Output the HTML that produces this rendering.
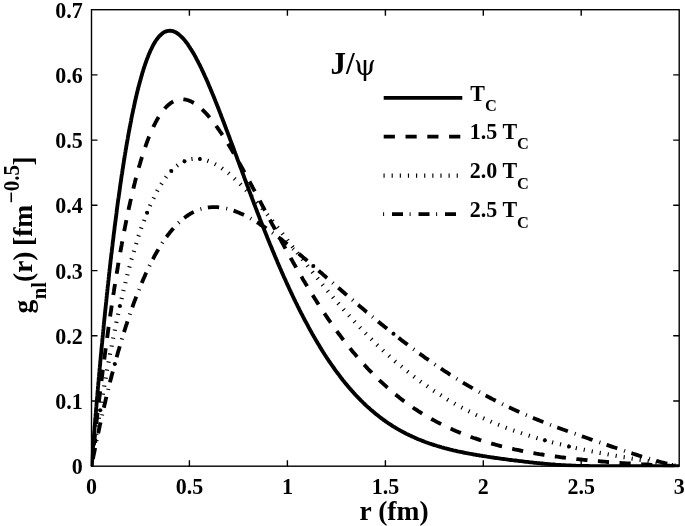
<!DOCTYPE html>
<html><head><meta charset="utf-8"><title>J/psi radial wave functions</title>
<style>html,body{margin:0;padding:0;background:#fff}svg{display:block}</style></head>
<body>
<svg width="685" height="526" viewBox="0 0 685 526">
<rect x="0" y="0" width="685" height="526" fill="#fff"/>
<clipPath id="c"><rect x="90.8" y="9.7" width="589.1" height="457.5"/></clipPath>
<g clip-path="url(#c)" fill="none" stroke="#000" stroke-width="3.85" stroke-linejoin="round">
<path d="M91.5 466.2 L91.6 464.7 L91.7 463.2 L91.8 461.7 L92.0 460.2 L92.1 458.7 L92.2 457.2 L92.3 455.7 L92.4 454.2 L92.6 452.7 L92.7 451.2 L92.8 449.8 L92.9 448.3 L93.0 446.8 L93.1 445.3 L93.3 443.8 L93.4 442.3 L93.5 440.8 L93.6 439.3 L93.8 437.8 L93.9 436.3 L94.0 434.8 L94.1 433.3 L94.2 431.8 L94.4 430.3 L94.5 428.8 L94.6 427.3 L94.7 425.8 L94.9 424.3 L95.0 422.8 L95.1 421.3 L95.2 419.8 L95.3 418.4 L95.5 416.9 L95.6 415.4 L95.7 413.9 L95.9 412.4 L96.0 410.9 L96.1 409.4 L96.2 407.9 L96.4 406.4 L96.5 404.9 L96.6 403.4 L96.7 401.9 L96.9 400.4 L97.0 398.9 L97.1 397.4 L97.3 395.9 L97.4 394.4 L97.5 392.9 L97.6 391.5 L97.8 390.0 L97.9 388.5 L98.0 387.0 L98.2 385.5 L98.3 384.0 L98.4 382.5 L98.6 381.0 L98.7 379.5 L98.8 378.0 L99.0 376.5 L99.1 375.0 L99.2 373.5 L99.4 372.0 L99.5 370.5 L99.6 369.0 L99.8 367.5 L99.9 366.1 L100.1 364.6 L100.2 363.1 L100.3 361.6 L100.5 360.1 L100.6 358.6 L100.7 357.1 L100.9 355.6 L101.0 354.1 L101.2 352.6 L101.3 351.1 L101.4 349.6 L101.6 348.1 L101.7 346.6 L101.9 345.1 L102.0 343.7 L102.2 342.2 L102.3 340.7 L102.4 339.2 L102.6 337.7 L102.7 336.2 L102.9 334.7 L103.0 333.2 L103.2 331.7 L103.3 330.2 L103.5 328.7 L103.6 327.2 L103.7 325.7 L103.9 324.2 L104.0 322.8 L104.2 321.3 L104.3 319.8 L104.5 318.3 L104.6 316.8 L104.8 315.3 L104.9 313.8 L105.1 312.3 L105.2 310.8 L105.4 309.3 L105.6 307.8 L105.7 306.3 L105.9 304.8 L106.0 303.3 L106.2 301.9 L106.3 300.4 L106.5 298.9 L106.6 297.4 L106.8 295.9 L106.9 294.4 L107.1 292.9 L107.3 291.4 L107.4 289.9 L107.6 288.4 L107.7 286.9 L107.9 285.4 L108.1 284.0 L108.2 282.5 L108.4 281.0 L108.6 279.5 L108.7 278.0 L108.9 276.5 L109.0 275.0 L109.2 273.5 L109.4 272.0 L109.5 270.5 L109.7 269.0 L109.9 267.6 L110.0 266.1 L110.2 264.6 L110.4 263.1 L110.5 261.6 L110.7 260.1 L110.9 258.6 L111.1 257.1 L111.2 255.6 L111.4 254.1 L111.6 252.7 L111.8 251.2 L111.9 249.7 L112.1 248.2 L112.3 246.7 L112.5 245.2 L112.6 243.7 L112.8 242.2 L113.0 240.7 L113.2 239.2 L113.4 237.8 L113.5 236.3 L113.7 234.8 L113.9 233.3 L114.1 231.8 L114.3 230.3 L114.5 228.8 L114.6 227.3 L114.8 225.9 L115.0 224.4 L115.2 222.9 L115.4 221.4 L115.6 219.9 L115.8 218.4 L116.0 216.9 L116.2 215.4 L116.4 213.9 L116.6 212.5 L116.7 211.0 L116.9 209.5 L117.1 208.0 L117.3 206.5 L117.5 205.0 L117.7 203.5 L117.9 202.1 L118.1 200.6 L118.3 199.1 L118.6 197.6 L118.8 196.1 L119.0 194.6 L119.2 193.1 L119.4 191.7 L119.6 190.2 L119.8 188.7 L120.0 187.2 L120.2 185.7 L120.4 184.2 L120.7 182.7 L120.9 181.3 L121.1 179.8 L121.3 178.3 L121.5 176.8 L121.7 175.3 L122.0 173.8 L122.2 172.4 L122.4 170.9 L122.6 169.4 L122.9 167.9 L123.1 166.4 L123.3 164.9 L123.6 163.5 L123.8 162.0 L124.0 160.5 L124.3 159.0 L124.5 157.5 L124.7 156.1 L125.0 154.6 L125.2 153.1 L125.5 151.6 L125.7 150.1 L126.0 148.7 L126.2 147.2 L126.5 145.7 L126.7 144.2 L127.0 142.7 L127.2 141.3 L127.5 139.8 L127.8 138.3 L128.0 136.8 L128.3 135.4 L128.5 133.9 L128.8 132.4 L129.1 130.9 L129.4 129.5 L129.6 128.0 L129.9 126.5 L130.2 125.0 L130.5 123.6 L130.8 122.1 L131.1 120.6 L131.3 119.1 L131.6 117.7 L131.9 116.2 L132.2 114.7 L132.5 113.3 L132.8 111.8 L133.1 110.3 L133.4 108.9 L133.8 107.4 L134.1 105.9 L134.4 104.5 L134.7 103.0 L135.0 101.5 L135.4 100.1 L135.7 98.6 L136.1 97.1 L136.4 95.7 L136.7 94.2 L137.1 92.8 L137.4 91.3 L137.8 89.8 L138.2 88.4 L138.5 86.9 L138.9 85.5 L139.3 84.0 L139.7 82.6 L140.1 81.1 L140.5 79.7 L140.9 78.2 L141.3 76.8 L141.7 75.4 L142.1 73.9 L142.5 72.5 L143.0 71.1 L143.4 69.6 L143.9 68.2 L144.3 66.8 L144.8 65.3 L145.3 63.9 L145.8 62.5 L146.3 61.1 L146.8 59.7 L147.3 58.3 L147.9 56.9 L148.4 55.5 L149.0 54.1 L149.6 52.7 L150.2 51.3 L150.8 50.0 L151.5 48.6 L152.1 47.3 L152.8 45.9 L153.5 44.6 L154.3 43.3 L155.0 42.0 L155.8 40.8 L156.7 39.5 L157.6 38.3 L158.5 37.1 L159.5 36.0 L160.6 35.0 L161.7 34.0 L162.9 33.0 L164.1 32.2 L165.5 31.6 L166.9 31.1 L168.4 30.8 L169.8 30.7 L171.3 30.8 L172.8 31.1 L174.2 31.6 L175.6 32.3 L176.9 33.0 L178.1 33.9 L179.3 34.8 L180.4 35.8 L181.5 36.8 L182.6 37.9 L183.6 39.0 L184.5 40.1 L185.5 41.3 L186.4 42.5 L187.3 43.7 L188.2 44.9 L189.0 46.2 L189.8 47.4 L190.6 48.7 L191.4 49.9 L192.2 51.2 L193.0 52.5 L193.7 53.8 L194.5 55.1 L195.2 56.4 L195.9 57.7 L196.6 59.1 L197.3 60.4 L198.0 61.7 L198.7 63.1 L199.4 64.4 L200.0 65.7 L200.7 67.1 L201.4 68.4 L202.0 69.8 L202.6 71.2 L203.3 72.5 L203.9 73.9 L204.5 75.2 L205.1 76.6 L205.8 78.0 L206.4 79.4 L207.0 80.7 L207.6 82.1 L208.2 83.5 L208.8 84.9 L209.3 86.2 L209.9 87.6 L210.5 89.0 L211.1 90.4 L211.7 91.8 L212.2 93.2 L212.8 94.5 L213.4 95.9 L213.9 97.3 L214.5 98.7 L215.1 100.1 L215.6 101.5 L216.2 102.9 L216.7 104.3 L217.3 105.7 L217.8 107.1 L218.4 108.5 L218.9 109.9 L219.5 111.3 L220.0 112.7 L220.6 114.1 L221.1 115.5 L221.6 116.9 L222.2 118.3 L222.7 119.7 L223.2 121.1 L223.8 122.5 L224.3 123.9 L224.8 125.3 L225.4 126.7 L225.9 128.1 L226.4 129.5 L227.0 130.9 L227.5 132.3 L228.0 133.7 L228.5 135.1 L229.1 136.5 L229.6 137.9 L230.1 139.3 L230.6 140.7 L231.2 142.1 L231.7 143.5 L232.2 144.9 L232.7 146.3 L233.3 147.7 L233.8 149.1 L234.3 150.6 L234.8 152.0 L235.3 153.4 L235.9 154.8 L236.4 156.2 L236.9 157.6 L237.4 159.0 L237.9 160.4 L238.5 161.8 L239.0 163.2 L239.5 164.6 L240.0 166.0 L240.5 167.4 L241.1 168.8 L241.6 170.2 L242.1 171.7 L242.6 173.1 L243.2 174.5 L243.7 175.9 L244.2 177.3 L244.7 178.7 L245.2 180.1 L245.8 181.5 L246.3 182.9 L246.8 184.3 L247.3 185.7 L247.9 187.1 L248.4 188.5 L248.9 189.9 L249.4 191.3 L250.0 192.7 L250.5 194.1 L251.0 195.5 L251.6 196.9 L252.1 198.4 L252.6 199.8 L253.2 201.2 L253.7 202.6 L254.2 204.0 L254.8 205.4 L255.3 206.8 L255.8 208.2 L256.4 209.6 L256.9 211.0 L257.4 212.4 L258.0 213.8 L258.5 215.2 L259.1 216.6 L259.6 218.0 L260.1 219.4 L260.7 220.8 L261.2 222.2 L261.8 223.6 L262.3 224.9 L262.9 226.3 L263.4 227.7 L264.0 229.1 L264.5 230.5 L265.1 231.9 L265.6 233.3 L266.2 234.7 L266.8 236.1 L267.3 237.5 L267.9 238.9 L268.4 240.3 L269.0 241.7 L269.6 243.1 L270.1 244.4 L270.7 245.8 L271.3 247.2 L271.8 248.6 L272.4 250.0 L273.0 251.4 L273.6 252.8 L274.1 254.1 L274.7 255.5 L275.3 256.9 L275.9 258.3 L276.5 259.7 L277.1 261.1 L277.6 262.4 L278.2 263.8 L278.8 265.2 L279.4 266.6 L280.0 268.0 L280.6 269.3 L281.2 270.7 L281.8 272.1 L282.4 273.4 L283.0 274.8 L283.6 276.2 L284.2 277.6 L284.9 278.9 L285.5 280.3 L286.1 281.7 L286.7 283.0 L287.3 284.4 L288.0 285.8 L288.6 287.1 L289.2 288.5 L289.8 289.8 L290.5 291.2 L291.1 292.6 L291.8 293.9 L292.4 295.3 L293.0 296.6 L293.7 298.0 L294.3 299.3 L295.0 300.7 L295.6 302.0 L296.3 303.4 L297.0 304.7 L297.6 306.1 L298.3 307.4 L299.0 308.8 L299.6 310.1 L300.3 311.4 L301.0 312.8 L301.7 314.1 L302.4 315.4 L303.1 316.8 L303.8 318.1 L304.4 319.4 L305.1 320.8 L305.9 322.1 L306.6 323.4 L307.3 324.7 L308.0 326.0 L308.7 327.4 L309.4 328.7 L310.1 330.0 L310.9 331.3 L311.6 332.6 L312.3 333.9 L313.1 335.2 L313.8 336.5 L314.6 337.8 L315.3 339.1 L316.1 340.4 L316.9 341.7 L317.6 343.0 L318.4 344.3 L319.2 345.6 L319.9 346.9 L320.7 348.1 L321.5 349.4 L322.3 350.7 L323.1 352.0 L323.9 353.2 L324.7 354.5 L325.5 355.7 L326.3 357.0 L327.2 358.3 L328.0 359.5 L328.8 360.8 L329.7 362.0 L330.5 363.2 L331.4 364.5 L332.2 365.7 L333.1 366.9 L334.0 368.2 L334.8 369.4 L335.7 370.6 L336.6 371.8 L337.5 373.0 L338.4 374.2 L339.3 375.4 L340.2 376.6 L341.1 377.8 L342.0 379.0 L342.9 380.2 L343.9 381.3 L344.8 382.5 L345.8 383.7 L346.7 384.8 L347.7 386.0 L348.7 387.1 L349.6 388.3 L350.6 389.4 L351.6 390.5 L352.6 391.6 L353.6 392.8 L354.6 393.9 L355.6 395.0 L356.7 396.1 L357.7 397.1 L358.7 398.2 L359.8 399.3 L360.8 400.4 L361.9 401.4 L363.0 402.5 L364.0 403.5 L365.1 404.5 L366.2 405.6 L367.3 406.6 L368.4 407.6 L369.6 408.6 L370.7 409.6 L371.8 410.6 L373.0 411.6 L374.1 412.5 L375.3 413.5 L376.4 414.4 L377.6 415.3 L378.8 416.3 L380.0 417.2 L381.2 418.1 L382.4 419.0 L383.6 419.9 L384.8 420.7 L386.0 421.6 L387.3 422.5 L388.5 423.3 L389.8 424.1 L391.0 424.9 L392.3 425.8 L393.5 426.6 L394.8 427.3 L396.1 428.1 L397.4 428.9 L398.7 429.6 L400.0 430.4 L401.3 431.1 L402.6 431.8 L404.0 432.5 L405.3 433.2 L406.6 433.9 L408.0 434.5 L409.3 435.2 L410.7 435.8 L412.0 436.5 L413.4 437.1 L414.8 437.7 L416.1 438.3 L417.5 438.9 L418.9 439.5 L420.3 440.0 L421.7 440.6 L423.1 441.1 L424.5 441.7 L425.9 442.2 L427.3 442.7 L428.7 443.2 L430.1 443.7 L431.6 444.2 L433.0 444.6 L434.4 445.1 L435.9 445.5 L437.3 446.0 L438.7 446.4 L440.2 446.8 L441.6 447.3 L443.0 447.7 L444.5 448.1 L445.9 448.4 L447.4 448.8 L448.8 449.2 L450.3 449.6 L451.8 449.9 L453.2 450.3 L454.7 450.6 L456.1 450.9 L457.6 451.3 L459.1 451.6 L460.5 451.9 L462.0 452.2 L463.5 452.5 L464.9 452.8 L466.4 453.1 L467.9 453.4 L469.4 453.7 L470.8 453.9 L472.3 454.2 L473.8 454.5 L475.3 454.7 L476.7 455.0 L478.2 455.2 L479.7 455.5 L481.2 455.7 L482.7 456.0 L484.1 456.2 L485.6 456.4 L487.1 456.7 L488.6 456.9 L490.1 457.1 L491.6 457.3 L493.0 457.5 L494.5 457.8 L496.0 458.0 L497.5 458.2 L499.0 458.4 L500.5 458.6 L502.0 458.8 L503.4 459.0 L504.9 459.2 L506.4 459.4 L507.9 459.6 L509.4 459.8 L510.9 460.0 L512.4 460.2 L513.9 460.3 L515.3 460.5 L516.8 460.7 L518.3 460.9 L519.8 461.1 L521.3 461.2 L522.8 461.4 L524.3 461.6 L525.8 461.8 L527.3 461.9 L528.8 462.1 L530.2 462.3 L531.7 462.4 L533.2 462.6 L534.7 462.8 L536.2 462.9 L537.7 463.1 L539.2 463.2 L540.7 463.4 L542.2 463.5 L543.7 463.6 L545.2 463.8 L546.7 463.9 L548.2 464.1 L549.7 464.2 L551.1 464.3 L552.6 464.4 L554.1 464.5 L555.6 464.7 L557.1 464.8 L558.6 464.9 L560.1 465.0 L561.6 465.1 L563.1 465.1 L564.6 465.2 L566.1 465.3 L567.6 465.4 L569.1 465.5 L570.6 465.5 L572.1 465.6 L573.6 465.7 L575.1 465.7 L576.6 465.8 L578.1 465.8 L579.6 465.9 L581.1 465.9 L582.6 465.9 L584.1 466.0 L585.6 466.0 L587.1 466.0 L588.6 466.0 L590.1 466.1 L591.6 466.1 L593.1 466.1 L594.6 466.1 L596.1 466.1 L597.6 466.1 L599.1 466.2 L600.6 466.2 L602.1 466.2 L603.6 466.2 L605.1 466.2 L606.6 466.2 L608.1 466.2 L609.6 466.2 L611.1 466.2 L612.6 466.2 L614.1 466.2 L615.6 466.2 L617.1 466.2 L618.6 466.2 L620.1 466.2 L621.6 466.2 L623.1 466.2 L624.6 466.2 L626.1 466.2 L627.6 466.2 L629.1 466.2 L630.6 466.2 L632.1 466.2 L633.6 466.2 L635.1 466.2 L636.6 466.2 L638.1 466.2 L639.6 466.2 L641.1 466.2 L642.6 466.2 L644.1 466.2 L645.6 466.2 L647.1 466.2 L648.6 466.2 L650.1 466.2 L651.6 466.2 L653.1 466.2 L654.6 466.2 L656.1 466.2 L657.6 466.2 L659.1 466.2 L660.6 466.2 L662.1 466.2 L663.6 466.2 L665.1 466.2 L666.6 466.2 L668.1 466.2 L669.6 466.2 L671.1 466.2 L672.6 466.2 L674.1 466.2 L675.6 466.2 L677.1 466.2 L678.6 466.2 L679.2 466.2"/>
<path d="M91.5 466.2 L91.7 464.7 L91.8 463.2 L92.0 461.7 L92.2 460.2 L92.3 458.7 L92.5 457.3 L92.7 455.8 L92.8 454.3 L93.0 452.8 L93.2 451.3 L93.3 449.8 L93.5 448.3 L93.7 446.8 L93.8 445.3 L94.0 443.8 L94.2 442.3 L94.3 440.9 L94.5 439.4 L94.7 437.9 L94.8 436.4 L95.0 434.9 L95.2 433.4 L95.3 431.9 L95.5 430.4 L95.7 428.9 L95.9 427.4 L96.0 426.0 L96.2 424.5 L96.4 423.0 L96.6 421.5 L96.7 420.0 L96.9 418.5 L97.1 417.0 L97.3 415.5 L97.4 414.0 L97.6 412.5 L97.8 411.1 L98.0 409.6 L98.1 408.1 L98.3 406.6 L98.5 405.1 L98.7 403.6 L98.9 402.1 L99.0 400.6 L99.2 399.1 L99.4 397.7 L99.6 396.2 L99.8 394.7 L99.9 393.2 L100.1 391.7 L100.3 390.2 L100.5 388.7 L100.7 387.2 L100.9 385.7 L101.0 384.3 L101.2 382.8 L101.4 381.3 L101.6 379.8 L101.8 378.3 L102.0 376.8 L102.2 375.3 L102.4 373.8 L102.5 372.3 L102.7 370.9 L102.9 369.4 L103.1 367.9 L103.3 366.4 L103.5 364.9 L103.7 363.4 L103.9 361.9 L104.1 360.4 L104.3 359.0 L104.5 357.5 L104.7 356.0 L104.9 354.5 L105.1 353.0 L105.3 351.5 L105.5 350.0 L105.7 348.6 L105.9 347.1 L106.1 345.6 L106.3 344.1 L106.5 342.6 L106.7 341.1 L106.9 339.6 L107.1 338.1 L107.3 336.7 L107.5 335.2 L107.7 333.7 L107.9 332.2 L108.1 330.7 L108.3 329.2 L108.5 327.7 L108.7 326.3 L108.9 324.8 L109.1 323.3 L109.3 321.8 L109.6 320.3 L109.8 318.8 L110.0 317.4 L110.2 315.9 L110.4 314.4 L110.6 312.9 L110.9 311.4 L111.1 309.9 L111.3 308.4 L111.5 307.0 L111.7 305.5 L111.9 304.0 L112.2 302.5 L112.4 301.0 L112.6 299.5 L112.8 298.1 L113.1 296.6 L113.3 295.1 L113.5 293.6 L113.8 292.1 L114.0 290.6 L114.2 289.2 L114.4 287.7 L114.7 286.2 L114.9 284.7 L115.1 283.2 L115.4 281.8 L115.6 280.3 L115.9 278.8 L116.1 277.3 L116.3 275.8 L116.6 274.4 L116.8 272.9 L117.1 271.4 L117.3 269.9 L117.6 268.4 L117.8 267.0 L118.0 265.5 L118.3 264.0 L118.5 262.5 L118.8 261.0 L119.1 259.6 L119.3 258.1 L119.6 256.6 L119.8 255.1 L120.1 253.6 L120.3 252.2 L120.6 250.7 L120.9 249.2 L121.1 247.7 L121.4 246.3 L121.7 244.8 L121.9 243.3 L122.2 241.8 L122.5 240.4 L122.8 238.9 L123.0 237.4 L123.3 235.9 L123.6 234.5 L123.9 233.0 L124.1 231.5 L124.4 230.0 L124.7 228.6 L125.0 227.1 L125.3 225.6 L125.6 224.2 L125.9 222.7 L126.2 221.2 L126.5 219.7 L126.8 218.3 L127.1 216.8 L127.4 215.3 L127.7 213.9 L128.0 212.4 L128.3 210.9 L128.6 209.5 L128.9 208.0 L129.2 206.5 L129.6 205.1 L129.9 203.6 L130.2 202.1 L130.5 200.7 L130.9 199.2 L131.2 197.7 L131.5 196.3 L131.9 194.8 L132.2 193.4 L132.6 191.9 L132.9 190.4 L133.3 189.0 L133.6 187.5 L134.0 186.1 L134.3 184.6 L134.7 183.2 L135.0 181.7 L135.4 180.3 L135.8 178.8 L136.2 177.3 L136.6 175.9 L136.9 174.4 L137.3 173.0 L137.7 171.6 L138.1 170.1 L138.5 168.7 L138.9 167.2 L139.3 165.8 L139.8 164.3 L140.2 162.9 L140.6 161.5 L141.0 160.0 L141.5 158.6 L141.9 157.1 L142.4 155.7 L142.8 154.3 L143.3 152.9 L143.7 151.4 L144.2 150.0 L144.7 148.6 L145.2 147.2 L145.7 145.8 L146.2 144.3 L146.7 142.9 L147.2 141.5 L147.8 140.1 L148.3 138.7 L148.8 137.3 L149.4 135.9 L150.0 134.5 L150.5 133.2 L151.1 131.8 L151.7 130.4 L152.4 129.0 L153.0 127.7 L153.6 126.3 L154.3 125.0 L155.0 123.6 L155.6 122.3 L156.4 121.0 L157.1 119.7 L157.8 118.4 L158.6 117.1 L159.4 115.8 L160.2 114.6 L161.1 113.3 L161.9 112.1 L162.8 110.9 L163.8 109.7 L164.7 108.6 L165.7 107.5 L166.8 106.4 L167.9 105.3 L169.0 104.4 L170.2 103.4 L171.4 102.6 L172.7 101.8 L174.0 101.1 L175.4 100.5 L176.8 100.0 L178.2 99.6 L179.7 99.3 L181.2 99.2 L182.7 99.2 L184.2 99.4 L185.7 99.6 L187.1 100.0 L188.6 100.4 L190.0 101.0 L191.3 101.6 L192.6 102.3 L193.9 103.0 L195.2 103.8 L196.4 104.7 L197.6 105.6 L198.8 106.5 L200.0 107.5 L201.1 108.5 L202.2 109.5 L203.3 110.6 L204.3 111.6 L205.4 112.7 L206.4 113.8 L207.4 114.9 L208.4 116.0 L209.4 117.2 L210.3 118.3 L211.3 119.5 L212.2 120.7 L213.1 121.8 L214.0 123.0 L214.9 124.2 L215.8 125.4 L216.7 126.7 L217.6 127.9 L218.4 129.1 L219.3 130.3 L220.1 131.6 L221.0 132.8 L221.8 134.1 L222.6 135.3 L223.5 136.6 L224.3 137.8 L225.1 139.1 L225.9 140.4 L226.7 141.6 L227.5 142.9 L228.3 144.2 L229.1 145.5 L229.8 146.7 L230.6 148.0 L231.4 149.3 L232.1 150.6 L232.9 151.9 L233.7 153.2 L234.4 154.5 L235.2 155.8 L235.9 157.1 L236.7 158.4 L237.4 159.7 L238.2 161.0 L238.9 162.3 L239.6 163.6 L240.4 164.9 L241.1 166.2 L241.8 167.5 L242.6 168.8 L243.3 170.1 L244.0 171.5 L244.7 172.8 L245.5 174.1 L246.2 175.4 L246.9 176.7 L247.6 178.0 L248.3 179.4 L249.1 180.7 L249.8 182.0 L250.5 183.3 L251.2 184.6 L251.9 186.0 L252.6 187.3 L253.3 188.6 L254.0 189.9 L254.7 191.2 L255.4 192.6 L256.1 193.9 L256.9 195.2 L257.6 196.5 L258.3 197.9 L259.0 199.2 L259.7 200.5 L260.4 201.8 L261.1 203.2 L261.8 204.5 L262.5 205.8 L263.2 207.1 L263.9 208.5 L264.6 209.8 L265.3 211.1 L266.0 212.4 L266.7 213.8 L267.4 215.1 L268.1 216.4 L268.8 217.7 L269.5 219.1 L270.2 220.4 L270.9 221.7 L271.6 223.0 L272.3 224.4 L273.1 225.7 L273.8 227.0 L274.5 228.3 L275.2 229.6 L275.9 231.0 L276.6 232.3 L277.3 233.6 L278.0 234.9 L278.7 236.2 L279.4 237.6 L280.2 238.9 L280.9 240.2 L281.6 241.5 L282.3 242.8 L283.0 244.1 L283.8 245.5 L284.5 246.8 L285.2 248.1 L285.9 249.4 L286.7 250.7 L287.4 252.0 L288.1 253.3 L288.8 254.7 L289.6 256.0 L290.3 257.3 L291.0 258.6 L291.8 259.9 L292.5 261.2 L293.2 262.5 L294.0 263.8 L294.7 265.1 L295.5 266.4 L296.2 267.7 L297.0 269.0 L297.7 270.3 L298.5 271.6 L299.2 272.9 L300.0 274.2 L300.7 275.5 L301.5 276.8 L302.3 278.1 L303.0 279.4 L303.8 280.7 L304.6 281.9 L305.3 283.2 L306.1 284.5 L306.9 285.8 L307.6 287.1 L308.4 288.4 L309.2 289.7 L310.0 290.9 L310.8 292.2 L311.6 293.5 L312.4 294.8 L313.2 296.0 L314.0 297.3 L314.8 298.6 L315.6 299.8 L316.4 301.1 L317.2 302.4 L318.0 303.6 L318.8 304.9 L319.6 306.1 L320.4 307.4 L321.3 308.7 L322.1 309.9 L322.9 311.2 L323.7 312.4 L324.6 313.7 L325.4 314.9 L326.3 316.1 L327.1 317.4 L327.9 318.6 L328.8 319.9 L329.7 321.1 L330.5 322.3 L331.4 323.5 L332.2 324.8 L333.1 326.0 L334.0 327.2 L334.9 328.4 L335.7 329.6 L336.6 330.9 L337.5 332.1 L338.4 333.3 L339.3 334.5 L340.2 335.7 L341.1 336.9 L342.0 338.1 L342.9 339.3 L343.8 340.4 L344.7 341.6 L345.7 342.8 L346.6 344.0 L347.5 345.2 L348.5 346.3 L349.4 347.5 L350.3 348.7 L351.3 349.8 L352.2 351.0 L353.2 352.2 L354.2 353.3 L355.1 354.4 L356.1 355.6 L357.1 356.7 L358.1 357.9 L359.0 359.0 L360.0 360.1 L361.0 361.2 L362.0 362.4 L363.0 363.5 L364.0 364.6 L365.1 365.7 L366.1 366.8 L367.1 367.9 L368.1 369.0 L369.2 370.1 L370.2 371.1 L371.3 372.2 L372.3 373.3 L373.4 374.4 L374.4 375.4 L375.5 376.5 L376.6 377.5 L377.6 378.6 L378.7 379.6 L379.8 380.7 L380.9 381.7 L382.0 382.7 L383.1 383.7 L384.2 384.7 L385.3 385.7 L386.4 386.7 L387.5 387.7 L388.7 388.7 L389.8 389.7 L390.9 390.7 L392.1 391.7 L393.2 392.6 L394.4 393.6 L395.6 394.5 L396.7 395.5 L397.9 396.4 L399.1 397.3 L400.2 398.3 L401.4 399.2 L402.6 400.1 L403.8 401.0 L405.0 401.9 L406.2 402.8 L407.5 403.7 L408.7 404.5 L409.9 405.4 L411.1 406.3 L412.4 407.1 L413.6 408.0 L414.8 408.8 L416.1 409.6 L417.3 410.4 L418.6 411.3 L419.9 412.1 L421.1 412.9 L422.4 413.7 L423.7 414.4 L425.0 415.2 L426.3 416.0 L427.6 416.7 L428.9 417.5 L430.2 418.2 L431.5 419.0 L432.8 419.7 L434.1 420.4 L435.4 421.1 L436.7 421.9 L438.1 422.6 L439.4 423.2 L440.7 423.9 L442.1 424.6 L443.4 425.3 L444.8 425.9 L446.1 426.6 L447.5 427.2 L448.8 427.8 L450.2 428.5 L451.6 429.1 L452.9 429.7 L454.3 430.3 L455.7 430.9 L457.1 431.5 L458.4 432.1 L459.8 432.6 L461.2 433.2 L462.6 433.8 L464.0 434.3 L465.4 434.9 L466.8 435.4 L468.2 435.9 L469.6 436.4 L471.0 437.0 L472.4 437.5 L473.8 438.0 L475.3 438.4 L476.7 438.9 L478.1 439.4 L479.5 439.9 L481.0 440.3 L482.4 440.8 L483.8 441.3 L485.3 441.7 L486.7 442.1 L488.1 442.6 L489.6 443.0 L491.0 443.4 L492.4 443.8 L493.9 444.2 L495.3 444.6 L496.8 445.0 L498.2 445.4 L499.7 445.8 L501.1 446.2 L502.6 446.5 L504.0 446.9 L505.5 447.2 L507.0 447.6 L508.4 447.9 L509.9 448.3 L511.3 448.6 L512.8 448.9 L514.3 449.3 L515.7 449.6 L517.2 449.9 L518.7 450.2 L520.1 450.5 L521.6 450.8 L523.1 451.1 L524.5 451.4 L526.0 451.7 L527.5 452.0 L529.0 452.3 L530.4 452.5 L531.9 452.8 L533.4 453.1 L534.9 453.3 L536.4 453.6 L537.8 453.8 L539.3 454.1 L540.8 454.3 L542.3 454.5 L543.8 454.8 L545.2 455.0 L546.7 455.2 L548.2 455.5 L549.7 455.7 L551.2 455.9 L552.7 456.1 L554.1 456.3 L555.6 456.5 L557.1 456.7 L558.6 456.9 L560.1 457.1 L561.6 457.3 L563.1 457.5 L564.6 457.7 L566.0 457.9 L567.5 458.1 L569.0 458.2 L570.5 458.4 L572.0 458.6 L573.5 458.7 L575.0 458.9 L576.5 459.1 L578.0 459.2 L579.5 459.4 L580.9 459.5 L582.4 459.7 L583.9 459.9 L585.4 460.0 L586.9 460.1 L588.4 460.3 L589.9 460.4 L591.4 460.6 L592.9 460.7 L594.4 460.8 L595.9 461.0 L597.4 461.1 L598.9 461.2 L600.4 461.4 L601.9 461.5 L603.4 461.6 L604.8 461.7 L606.3 461.9 L607.8 462.0 L609.3 462.1 L610.8 462.2 L612.3 462.3 L613.8 462.4 L615.3 462.5 L616.8 462.6 L618.3 462.7 L619.8 462.8 L621.3 463.0 L622.8 463.1 L624.3 463.2 L625.8 463.3 L627.3 463.4 L628.8 463.4 L630.3 463.5 L631.8 463.6 L633.3 463.7 L634.8 463.8 L636.3 463.9 L637.8 464.0 L639.3 464.1 L640.8 464.2 L642.3 464.3 L643.8 464.4 L645.3 464.4 L646.8 464.5 L648.2 464.6 L649.7 464.7 L651.2 464.8 L652.7 464.8 L654.2 464.9 L655.7 465.0 L657.2 465.1 L658.7 465.2 L660.2 465.2 L661.7 465.3 L663.2 465.4 L664.7 465.5 L666.2 465.5 L667.7 465.6 L669.2 465.7 L670.7 465.8 L672.2 465.9 L673.7 465.9 L675.2 466.0 L676.7 466.1 L678.2 466.2 L679.2 466.2" stroke-dasharray="11.2 10.47" stroke-dashoffset="0.8"/>
<path d="M91.5 466.2 L91.7 464.7 L91.9 463.2 L92.2 461.7 L92.4 460.3 L92.6 458.8 L92.8 457.3 L93.0 455.8 L93.3 454.3 L93.5 452.8 L93.7 451.4 L93.9 449.9 L94.2 448.4 L94.4 446.9 L94.6 445.4 L94.8 444.0 L95.1 442.5 L95.3 441.0 L95.5 439.5 L95.8 438.0 L96.0 436.5 L96.2 435.1 L96.5 433.6 L96.7 432.1 L96.9 430.6 L97.2 429.1 L97.4 427.6 L97.6 426.2 L97.9 424.7 L98.1 423.2 L98.3 421.7 L98.6 420.2 L98.8 418.8 L99.0 417.3 L99.3 415.8 L99.5 414.3 L99.8 412.8 L100.0 411.4 L100.3 409.9 L100.5 408.4 L100.7 406.9 L101.0 405.4 L101.2 404.0 L101.5 402.5 L101.7 401.0 L102.0 399.5 L102.2 398.0 L102.5 396.6 L102.7 395.1 L103.0 393.6 L103.2 392.1 L103.5 390.6 L103.7 389.2 L104.0 387.7 L104.3 386.2 L104.5 384.7 L104.8 383.3 L105.0 381.8 L105.3 380.3 L105.6 378.8 L105.8 377.3 L106.1 375.9 L106.3 374.4 L106.6 372.9 L106.9 371.4 L107.1 370.0 L107.4 368.5 L107.7 367.0 L107.9 365.5 L108.2 364.1 L108.5 362.6 L108.8 361.1 L109.0 359.6 L109.3 358.2 L109.6 356.7 L109.9 355.2 L110.1 353.7 L110.4 352.3 L110.7 350.8 L111.0 349.3 L111.3 347.9 L111.6 346.4 L111.8 344.9 L112.1 343.4 L112.4 342.0 L112.7 340.5 L113.0 339.0 L113.3 337.5 L113.6 336.1 L113.9 334.6 L114.2 333.1 L114.5 331.7 L114.8 330.2 L115.1 328.7 L115.4 327.3 L115.7 325.8 L116.0 324.3 L116.3 322.9 L116.6 321.4 L116.9 319.9 L117.2 318.4 L117.5 317.0 L117.9 315.5 L118.2 314.0 L118.5 312.6 L118.8 311.1 L119.1 309.7 L119.5 308.2 L119.8 306.7 L120.1 305.3 L120.4 303.8 L120.8 302.3 L121.1 300.9 L121.4 299.4 L121.8 297.9 L122.1 296.5 L122.5 295.0 L122.8 293.6 L123.1 292.1 L123.5 290.6 L123.8 289.2 L124.2 287.7 L124.5 286.3 L124.9 284.8 L125.3 283.4 L125.6 281.9 L126.0 280.4 L126.3 279.0 L126.7 277.5 L127.1 276.1 L127.5 274.6 L127.8 273.2 L128.2 271.7 L128.6 270.3 L129.0 268.8 L129.4 267.4 L129.8 265.9 L130.1 264.5 L130.5 263.0 L130.9 261.6 L131.3 260.1 L131.7 258.7 L132.2 257.3 L132.6 255.8 L133.0 254.4 L133.4 252.9 L133.8 251.5 L134.2 250.0 L134.7 248.6 L135.1 247.2 L135.5 245.7 L136.0 244.3 L136.4 242.9 L136.9 241.4 L137.3 240.0 L137.8 238.6 L138.2 237.2 L138.7 235.7 L139.2 234.3 L139.7 232.9 L140.1 231.5 L140.6 230.0 L141.1 228.6 L141.6 227.2 L142.1 225.8 L142.6 224.4 L143.1 223.0 L143.6 221.6 L144.2 220.2 L144.7 218.8 L145.2 217.4 L145.8 216.0 L146.3 214.6 L146.9 213.2 L147.5 211.8 L148.0 210.4 L148.6 209.0 L149.2 207.6 L149.8 206.3 L150.4 204.9 L151.0 203.5 L151.6 202.2 L152.3 200.8 L152.9 199.4 L153.6 198.1 L154.2 196.7 L154.9 195.4 L155.6 194.1 L156.3 192.7 L157.0 191.4 L157.7 190.1 L158.5 188.8 L159.2 187.5 L160.0 186.2 L160.8 184.9 L161.6 183.7 L162.4 182.4 L163.2 181.2 L164.1 179.9 L164.9 178.7 L165.8 177.5 L166.7 176.3 L167.6 175.1 L168.6 174.0 L169.6 172.8 L170.6 171.7 L171.6 170.6 L172.7 169.6 L173.8 168.5 L174.9 167.5 L176.0 166.5 L177.2 165.6 L178.4 164.7 L179.6 163.9 L180.9 163.1 L182.2 162.3 L183.5 161.6 L184.9 161.0 L186.3 160.5 L187.7 160.0 L189.2 159.6 L190.6 159.2 L192.1 159.0 L193.6 158.8 L195.1 158.7 L196.6 158.7 L198.1 158.7 L199.6 158.8 L201.1 159.0 L202.5 159.3 L204.0 159.6 L205.5 160.0 L206.9 160.5 L208.3 161.0 L209.7 161.5 L211.1 162.1 L212.4 162.7 L213.8 163.4 L215.1 164.1 L216.4 164.8 L217.7 165.6 L219.0 166.4 L220.3 167.2 L221.5 168.0 L222.7 168.9 L223.9 169.7 L225.2 170.6 L226.3 171.6 L227.5 172.5 L228.7 173.4 L229.8 174.4 L231.0 175.4 L232.1 176.3 L233.2 177.3 L234.3 178.4 L235.4 179.4 L236.5 180.4 L237.6 181.4 L238.7 182.5 L239.8 183.5 L240.8 184.6 L241.9 185.7 L242.9 186.7 L244.0 187.8 L245.0 188.9 L246.0 190.0 L247.1 191.1 L248.1 192.2 L249.1 193.3 L250.1 194.4 L251.1 195.5 L252.1 196.6 L253.1 197.8 L254.1 198.9 L255.1 200.0 L256.0 201.2 L257.0 202.3 L258.0 203.4 L259.0 204.6 L259.9 205.7 L260.9 206.9 L261.8 208.0 L262.8 209.2 L263.8 210.3 L264.7 211.5 L265.7 212.7 L266.6 213.8 L267.6 215.0 L268.5 216.2 L269.4 217.3 L270.4 218.5 L271.3 219.7 L272.3 220.8 L273.2 222.0 L274.1 223.2 L275.1 224.4 L276.0 225.5 L276.9 226.7 L277.9 227.9 L278.8 229.1 L279.7 230.2 L280.6 231.4 L281.6 232.6 L282.5 233.8 L283.4 235.0 L284.3 236.2 L285.3 237.3 L286.2 238.5 L287.1 239.7 L288.0 240.9 L288.9 242.1 L289.9 243.3 L290.8 244.4 L291.7 245.6 L292.6 246.8 L293.5 248.0 L294.5 249.2 L295.4 250.4 L296.3 251.5 L297.2 252.7 L298.1 253.9 L299.1 255.1 L300.0 256.3 L300.9 257.5 L301.8 258.6 L302.8 259.8 L303.7 261.0 L304.6 262.2 L305.5 263.4 L306.5 264.5 L307.4 265.7 L308.3 266.9 L309.3 268.1 L310.2 269.2 L311.1 270.4 L312.1 271.6 L313.0 272.8 L313.9 273.9 L314.9 275.1 L315.8 276.3 L316.7 277.5 L317.7 278.6 L318.6 279.8 L319.6 281.0 L320.5 282.1 L321.4 283.3 L322.4 284.5 L323.3 285.6 L324.3 286.8 L325.2 287.9 L326.2 289.1 L327.2 290.3 L328.1 291.4 L329.1 292.6 L330.0 293.7 L331.0 294.9 L332.0 296.0 L332.9 297.2 L333.9 298.3 L334.9 299.4 L335.8 300.6 L336.8 301.7 L337.8 302.9 L338.8 304.0 L339.7 305.1 L340.7 306.3 L341.7 307.4 L342.7 308.5 L343.7 309.7 L344.7 310.8 L345.7 311.9 L346.7 313.0 L347.7 314.2 L348.7 315.3 L349.7 316.4 L350.7 317.5 L351.7 318.6 L352.7 319.7 L353.7 320.8 L354.7 321.9 L355.7 323.0 L356.8 324.1 L357.8 325.2 L358.8 326.3 L359.8 327.4 L360.9 328.5 L361.9 329.6 L363.0 330.7 L364.0 331.7 L365.0 332.8 L366.1 333.9 L367.1 335.0 L368.2 336.0 L369.2 337.1 L370.3 338.2 L371.4 339.2 L372.4 340.3 L373.5 341.3 L374.6 342.4 L375.6 343.4 L376.7 344.5 L377.8 345.5 L378.9 346.5 L380.0 347.6 L381.1 348.6 L382.2 349.6 L383.3 350.7 L384.4 351.7 L385.5 352.7 L386.6 353.7 L387.7 354.7 L388.8 355.7 L389.9 356.7 L391.0 357.7 L392.2 358.7 L393.3 359.7 L394.4 360.7 L395.5 361.7 L396.7 362.6 L397.8 363.6 L399.0 364.6 L400.1 365.6 L401.3 366.5 L402.4 367.5 L403.6 368.4 L404.7 369.4 L405.9 370.3 L407.1 371.3 L408.3 372.2 L409.4 373.1 L410.6 374.0 L411.8 375.0 L413.0 375.9 L414.2 376.8 L415.4 377.7 L416.6 378.6 L417.8 379.5 L419.0 380.4 L420.2 381.3 L421.4 382.2 L422.6 383.1 L423.8 383.9 L425.0 384.8 L426.3 385.7 L427.5 386.5 L428.7 387.4 L430.0 388.2 L431.2 389.1 L432.5 389.9 L433.7 390.7 L435.0 391.6 L436.2 392.4 L437.5 393.2 L438.7 394.0 L440.0 394.8 L441.3 395.6 L442.5 396.4 L443.8 397.2 L445.1 398.0 L446.4 398.8 L447.6 399.6 L448.9 400.3 L450.2 401.1 L451.5 401.8 L452.8 402.6 L454.1 403.3 L455.4 404.1 L456.7 404.8 L458.0 405.6 L459.4 406.3 L460.7 407.0 L462.0 407.7 L463.3 408.4 L464.6 409.1 L466.0 409.8 L467.3 410.5 L468.6 411.2 L470.0 411.9 L471.3 412.5 L472.7 413.2 L474.0 413.9 L475.3 414.5 L476.7 415.2 L478.1 415.8 L479.4 416.5 L480.8 417.1 L482.1 417.7 L483.5 418.3 L484.9 419.0 L486.2 419.6 L487.6 420.2 L489.0 420.8 L490.4 421.4 L491.7 422.0 L493.1 422.6 L494.5 423.1 L495.9 423.7 L497.3 424.3 L498.7 424.8 L500.1 425.4 L501.5 425.9 L502.9 426.5 L504.3 427.0 L505.7 427.6 L507.1 428.1 L508.5 428.6 L509.9 429.1 L511.3 429.7 L512.7 430.2 L514.1 430.7 L515.5 431.2 L516.9 431.7 L518.3 432.1 L519.8 432.6 L521.2 433.1 L522.6 433.6 L524.0 434.1 L525.5 434.5 L526.9 435.0 L528.3 435.4 L529.8 435.9 L531.2 436.3 L532.6 436.8 L534.1 437.2 L535.5 437.6 L536.9 438.1 L538.4 438.5 L539.8 438.9 L541.3 439.3 L542.7 439.7 L544.1 440.1 L545.6 440.5 L547.0 440.9 L548.5 441.3 L549.9 441.7 L551.4 442.1 L552.8 442.5 L554.3 442.9 L555.7 443.2 L557.2 443.6 L558.6 444.0 L560.1 444.3 L561.6 444.7 L563.0 445.0 L564.5 445.4 L565.9 445.7 L567.4 446.1 L568.9 446.4 L570.3 446.7 L571.8 447.1 L573.2 447.4 L574.7 447.7 L576.2 448.1 L577.6 448.4 L579.1 448.7 L580.6 449.0 L582.0 449.3 L583.5 449.6 L585.0 449.9 L586.4 450.2 L587.9 450.5 L589.4 450.8 L590.8 451.1 L592.3 451.4 L593.8 451.7 L595.3 452.0 L596.7 452.3 L598.2 452.6 L599.7 452.9 L601.2 453.1 L602.6 453.4 L604.1 453.7 L605.6 454.0 L607.1 454.2 L608.5 454.5 L610.0 454.8 L611.5 455.0 L613.0 455.3 L614.4 455.5 L615.9 455.8 L617.4 456.1 L618.9 456.3 L620.4 456.6 L621.8 456.8 L623.3 457.1 L624.8 457.3 L626.3 457.6 L627.7 457.8 L629.2 458.1 L630.7 458.3 L632.2 458.6 L633.7 458.8 L635.1 459.0 L636.6 459.3 L638.1 459.5 L639.6 459.8 L641.1 460.0 L642.5 460.2 L644.0 460.5 L645.5 460.7 L647.0 461.0 L648.5 461.2 L650.0 461.4 L651.4 461.7 L652.9 461.9 L654.4 462.1 L655.9 462.4 L657.4 462.6 L658.8 462.9 L660.3 463.1 L661.8 463.3 L663.3 463.6 L664.8 463.8 L666.2 464.1 L667.7 464.3 L669.2 464.5 L670.7 464.8 L672.2 465.0 L673.6 465.3 L675.1 465.5 L676.6 465.8 L678.1 466.0 L679.2 466.2" stroke-width="4.1" stroke-dasharray="1.15 6.972" stroke-dashoffset="0.575"/>
<path d="M91.5 466.2 L91.8 464.7 L92.1 463.3 L92.4 461.8 L92.6 460.3 L92.9 458.8 L93.2 457.4 L93.5 455.9 L93.8 454.4 L94.1 453.0 L94.4 451.5 L94.7 450.0 L95.0 448.5 L95.3 447.1 L95.6 445.6 L95.9 444.1 L96.2 442.7 L96.5 441.2 L96.8 439.7 L97.1 438.3 L97.4 436.8 L97.7 435.3 L98.0 433.9 L98.4 432.4 L98.7 430.9 L99.0 429.5 L99.3 428.0 L99.6 426.5 L99.9 425.1 L100.3 423.6 L100.6 422.1 L100.9 420.7 L101.2 419.2 L101.6 417.7 L101.9 416.3 L102.2 414.8 L102.5 413.3 L102.9 411.9 L103.2 410.4 L103.5 409.0 L103.9 407.5 L104.2 406.0 L104.6 404.6 L104.9 403.1 L105.3 401.7 L105.6 400.2 L105.9 398.7 L106.3 397.3 L106.6 395.8 L107.0 394.4 L107.3 392.9 L107.7 391.4 L108.1 390.0 L108.4 388.5 L108.8 387.1 L109.1 385.6 L109.5 384.2 L109.9 382.7 L110.2 381.3 L110.6 379.8 L111.0 378.3 L111.4 376.9 L111.7 375.4 L112.1 374.0 L112.5 372.5 L112.9 371.1 L113.3 369.6 L113.6 368.2 L114.0 366.7 L114.4 365.3 L114.8 363.8 L115.2 362.4 L115.6 361.0 L116.0 359.5 L116.4 358.1 L116.8 356.6 L117.2 355.2 L117.6 353.7 L118.0 352.3 L118.4 350.8 L118.9 349.4 L119.3 348.0 L119.7 346.5 L120.1 345.1 L120.5 343.6 L121.0 342.2 L121.4 340.8 L121.8 339.3 L122.3 337.9 L122.7 336.5 L123.1 335.0 L123.6 333.6 L124.0 332.2 L124.5 330.7 L124.9 329.3 L125.4 327.9 L125.8 326.4 L126.3 325.0 L126.8 323.6 L127.2 322.2 L127.7 320.7 L128.2 319.3 L128.7 317.9 L129.1 316.5 L129.6 315.1 L130.1 313.6 L130.6 312.2 L131.1 310.8 L131.6 309.4 L132.1 308.0 L132.6 306.6 L133.1 305.1 L133.6 303.7 L134.1 302.3 L134.6 300.9 L135.2 299.5 L135.7 298.1 L136.2 296.7 L136.8 295.3 L137.3 293.9 L137.9 292.5 L138.4 291.1 L139.0 289.7 L139.5 288.3 L140.1 286.9 L140.7 285.6 L141.2 284.2 L141.8 282.8 L142.4 281.4 L143.0 280.0 L143.6 278.6 L144.2 277.3 L144.8 275.9 L145.4 274.5 L146.0 273.2 L146.7 271.8 L147.3 270.4 L147.9 269.1 L148.6 267.7 L149.2 266.4 L149.9 265.0 L150.6 263.7 L151.2 262.4 L151.9 261.0 L152.6 259.7 L153.3 258.4 L154.0 257.0 L154.7 255.7 L155.4 254.4 L156.2 253.1 L156.9 251.8 L157.7 250.5 L158.4 249.2 L159.2 247.9 L160.0 246.6 L160.8 245.4 L161.6 244.1 L162.4 242.8 L163.2 241.6 L164.1 240.3 L164.9 239.1 L165.8 237.9 L166.7 236.7 L167.5 235.5 L168.5 234.3 L169.4 233.1 L170.3 231.9 L171.3 230.7 L172.2 229.6 L173.2 228.5 L174.2 227.3 L175.2 226.2 L176.2 225.1 L177.3 224.1 L178.4 223.0 L179.5 222.0 L180.6 221.0 L181.7 220.0 L182.9 219.0 L184.0 218.1 L185.2 217.2 L186.4 216.3 L187.7 215.5 L188.9 214.6 L190.2 213.8 L191.5 213.1 L192.8 212.4 L194.2 211.7 L195.5 211.1 L196.9 210.5 L198.3 209.9 L199.7 209.4 L201.1 209.0 L202.6 208.6 L204.0 208.2 L205.5 207.9 L207.0 207.6 L208.5 207.4 L210.0 207.3 L211.4 207.2 L212.9 207.1 L214.4 207.1 L215.9 207.1 L217.4 207.2 L218.9 207.3 L220.4 207.5 L221.9 207.7 L223.4 207.9 L224.9 208.2 L226.3 208.5 L227.8 208.9 L229.2 209.3 L230.7 209.7 L232.1 210.2 L233.5 210.6 L234.9 211.1 L236.4 211.7 L237.7 212.2 L239.1 212.8 L240.5 213.4 L241.9 214.0 L243.2 214.6 L244.6 215.3 L245.9 216.0 L247.3 216.6 L248.6 217.3 L249.9 218.1 L251.2 218.8 L252.5 219.5 L253.8 220.3 L255.1 221.1 L256.4 221.9 L257.6 222.6 L258.9 223.4 L260.2 224.3 L261.4 225.1 L262.7 225.9 L263.9 226.7 L265.2 227.6 L266.4 228.4 L267.6 229.3 L268.9 230.2 L270.1 231.0 L271.3 231.9 L272.5 232.8 L273.7 233.7 L274.9 234.6 L276.1 235.5 L277.3 236.4 L278.5 237.3 L279.7 238.2 L280.9 239.1 L282.1 240.1 L283.2 241.0 L284.4 241.9 L285.6 242.9 L286.8 243.8 L287.9 244.7 L289.1 245.7 L290.2 246.6 L291.4 247.6 L292.6 248.5 L293.7 249.5 L294.9 250.4 L296.0 251.4 L297.2 252.4 L298.3 253.3 L299.5 254.3 L300.6 255.2 L301.8 256.2 L302.9 257.2 L304.1 258.2 L305.2 259.1 L306.4 260.1 L307.5 261.1 L308.6 262.1 L309.8 263.0 L310.9 264.0 L312.1 265.0 L313.2 266.0 L314.3 266.9 L315.5 267.9 L316.6 268.9 L317.7 269.9 L318.9 270.9 L320.0 271.9 L321.1 272.8 L322.3 273.8 L323.4 274.8 L324.5 275.8 L325.7 276.8 L326.8 277.8 L327.9 278.7 L329.1 279.7 L330.2 280.7 L331.3 281.7 L332.5 282.7 L333.6 283.7 L334.7 284.6 L335.8 285.6 L337.0 286.6 L338.1 287.6 L339.2 288.6 L340.4 289.6 L341.5 290.5 L342.6 291.5 L343.8 292.5 L344.9 293.5 L346.1 294.5 L347.2 295.4 L348.3 296.4 L349.5 297.4 L350.6 298.4 L351.7 299.3 L352.9 300.3 L354.0 301.3 L355.2 302.3 L356.3 303.2 L357.4 304.2 L358.6 305.2 L359.7 306.2 L360.9 307.1 L362.0 308.1 L363.2 309.1 L364.3 310.0 L365.5 311.0 L366.6 312.0 L367.8 312.9 L368.9 313.9 L370.1 314.8 L371.2 315.8 L372.4 316.8 L373.5 317.7 L374.7 318.7 L375.9 319.6 L377.0 320.6 L378.2 321.5 L379.3 322.5 L380.5 323.4 L381.7 324.4 L382.8 325.3 L384.0 326.3 L385.2 327.2 L386.3 328.1 L387.5 329.1 L388.7 330.0 L389.8 330.9 L391.0 331.9 L392.2 332.8 L393.4 333.7 L394.5 334.7 L395.7 335.6 L396.9 336.5 L398.1 337.4 L399.3 338.4 L400.5 339.3 L401.6 340.2 L402.8 341.1 L404.0 342.0 L405.2 342.9 L406.4 343.8 L407.6 344.8 L408.8 345.7 L410.0 346.6 L411.2 347.5 L412.4 348.4 L413.6 349.2 L414.8 350.1 L416.0 351.0 L417.2 351.9 L418.4 352.8 L419.7 353.7 L420.9 354.6 L422.1 355.4 L423.3 356.3 L424.5 357.2 L425.7 358.1 L427.0 358.9 L428.2 359.8 L429.4 360.7 L430.7 361.5 L431.9 362.4 L433.1 363.2 L434.4 364.1 L435.6 364.9 L436.8 365.8 L438.1 366.6 L439.3 367.5 L440.6 368.3 L441.8 369.1 L443.1 370.0 L444.3 370.8 L445.6 371.6 L446.8 372.4 L448.1 373.2 L449.3 374.1 L450.6 374.9 L451.9 375.7 L453.1 376.5 L454.4 377.3 L455.7 378.1 L456.9 378.9 L458.2 379.7 L459.5 380.4 L460.8 381.2 L462.0 382.0 L463.3 382.8 L464.6 383.6 L465.9 384.3 L467.2 385.1 L468.5 385.9 L469.8 386.6 L471.1 387.4 L472.4 388.1 L473.7 388.9 L475.0 389.6 L476.3 390.3 L477.6 391.1 L478.9 391.8 L480.2 392.5 L481.5 393.3 L482.8 394.0 L484.2 394.7 L485.5 395.4 L486.8 396.1 L488.1 396.8 L489.5 397.5 L490.8 398.2 L492.1 398.9 L493.5 399.6 L494.8 400.3 L496.1 401.0 L497.5 401.6 L498.8 402.3 L500.1 403.0 L501.5 403.6 L502.8 404.3 L504.2 405.0 L505.5 405.6 L506.9 406.3 L508.2 406.9 L509.6 407.5 L511.0 408.2 L512.3 408.8 L513.7 409.4 L515.0 410.1 L516.4 410.7 L517.8 411.3 L519.2 411.9 L520.5 412.5 L521.9 413.1 L523.3 413.7 L524.6 414.3 L526.0 414.9 L527.4 415.5 L528.8 416.1 L530.2 416.7 L531.5 417.3 L532.9 417.8 L534.3 418.4 L535.7 419.0 L537.1 419.6 L538.5 420.1 L539.9 420.7 L541.3 421.2 L542.7 421.8 L544.1 422.3 L545.5 422.9 L546.8 423.4 L548.2 424.0 L549.6 424.5 L551.0 425.1 L552.4 425.6 L553.9 426.1 L555.3 426.6 L556.7 427.2 L558.1 427.7 L559.5 428.2 L560.9 428.7 L562.3 429.3 L563.7 429.8 L565.1 430.3 L566.5 430.8 L567.9 431.3 L569.3 431.8 L570.7 432.3 L572.2 432.8 L573.6 433.3 L575.0 433.8 L576.4 434.3 L577.8 434.8 L579.2 435.3 L580.6 435.8 L582.1 436.3 L583.5 436.8 L584.9 437.3 L586.3 437.8 L587.7 438.3 L589.1 438.8 L590.6 439.3 L592.0 439.8 L593.4 440.3 L594.8 440.7 L596.2 441.2 L597.7 441.7 L599.1 442.2 L600.5 442.7 L601.9 443.2 L603.3 443.7 L604.7 444.2 L606.2 444.6 L607.6 445.1 L609.0 445.6 L610.4 446.1 L611.8 446.6 L613.3 447.1 L614.7 447.5 L616.1 448.0 L617.5 448.5 L619.0 449.0 L620.4 449.5 L621.8 449.9 L623.2 450.4 L624.6 450.9 L626.1 451.4 L627.5 451.8 L628.9 452.3 L630.3 452.8 L631.8 453.2 L633.2 453.7 L634.6 454.2 L636.0 454.6 L637.5 455.1 L638.9 455.6 L640.3 456.0 L641.7 456.5 L643.2 456.9 L644.6 457.4 L646.0 457.8 L647.5 458.2 L648.9 458.7 L650.4 459.1 L651.8 459.5 L653.2 460.0 L654.7 460.4 L656.1 460.8 L657.6 461.2 L659.0 461.6 L660.5 462.0 L661.9 462.4 L663.4 462.7 L664.8 463.1 L666.3 463.5 L667.7 463.8 L669.2 464.1 L670.7 464.5 L672.1 464.8 L673.6 465.1 L675.1 465.4 L676.5 465.7 L678.0 466.0 L679.2 466.2" stroke-dasharray="1 6.65 11.3 7.2" stroke-dashoffset="0.3"/>
</g>
<circle cx="95.4" cy="440.5" r="2.0" fill="#000"/>
<circle cx="100.2" cy="410.2" r="2.0" fill="#000"/>
<circle cx="119.9" cy="306.1" r="2.0" fill="#000"/>
<circle cx="147.1" cy="212.7" r="2.0" fill="#000"/>
<circle cx="171.3" cy="170.9" r="2.0" fill="#000"/>
<circle cx="184.5" cy="161.2" r="2.0" fill="#000"/>
<circle cx="199.9" cy="158.9" r="2.0" fill="#000"/>
<circle cx="544.9" cy="440.3" r="2.0" fill="#000"/>
<circle cx="569.0" cy="446.4" r="2.0" fill="#000"/>
<circle cx="114.8" cy="364.1" r="2.0" fill="#000"/>
<circle cx="261.1" cy="224.9" r="2.0" fill="#000"/>
<circle cx="313.3" cy="266.1" r="2.0" fill="#000"/>
<circle cx="393.5" cy="333.8" r="2.0" fill="#000"/>
<g stroke="#000" stroke-width="1.4" fill="none">
<rect x="91.5" y="9.7" width="587.7" height="456.5"/>
<path d="M189.4 466.2 v-6 M189.4 9.7 v6 M287.4 466.2 v-6 M287.4 9.7 v6 M385.4 466.2 v-6 M385.4 9.7 v6 M483.3 466.2 v-6 M483.3 9.7 v6 M581.2 466.2 v-6 M581.2 9.7 v6 M91.5 401.0 h6 M679.2 401.0 h-6 M91.5 335.8 h6 M679.2 335.8 h-6 M91.5 270.6 h6 M679.2 270.6 h-6 M91.5 205.3 h6 M679.2 205.3 h-6 M91.5 140.1 h6 M679.2 140.1 h-6 M91.5 74.9 h6 M679.2 74.9 h-6"/>
</g>
<g font-family="Liberation Serif, serif" font-weight="bold" font-size="22.0" fill="#000">
<text transform="translate(91.5 493.9) scale(1 1.045)" text-anchor="middle">0</text>
<text transform="translate(189.4 493.9) scale(1 1.045)" text-anchor="middle">0.5</text>
<text transform="translate(287.4 493.9) scale(1 1.045)" text-anchor="middle">1</text>
<text transform="translate(385.4 493.9) scale(1 1.045)" text-anchor="middle">1.5</text>
<text transform="translate(483.3 493.9) scale(1 1.045)" text-anchor="middle">2</text>
<text transform="translate(581.2 493.9) scale(1 1.045)" text-anchor="middle">2.5</text>
<text transform="translate(679.2 493.9) scale(1 1.045)" text-anchor="middle">3</text>
<text transform="translate(82.7 474.3) scale(1 1.045)" text-anchor="end">0</text>
<text transform="translate(82.7 409.1) scale(1 1.045)" text-anchor="end">0.1</text>
<text transform="translate(82.7 343.9) scale(1 1.045)" text-anchor="end">0.2</text>
<text transform="translate(82.7 278.7) scale(1 1.045)" text-anchor="end">0.3</text>
<text transform="translate(82.7 213.4) scale(1 1.045)" text-anchor="end">0.4</text>
<text transform="translate(82.7 148.2) scale(1 1.045)" text-anchor="end">0.5</text>
<text transform="translate(82.7 83.0) scale(1 1.045)" text-anchor="end">0.6</text>
<text transform="translate(82.7 17.8) scale(1 1.045)" text-anchor="end">0.7</text>
</g>
<text font-family="Liberation Serif, serif" font-weight="bold" font-size="27.5" x="359.6" y="519.8">r (fm)</text>
<g font-family="Liberation Serif, serif" font-weight="bold" font-size="27.5" transform="translate(31.8 313) rotate(-90)">
<text x="-0.5" y="0">g</text>
<text transform="translate(13.8 13.9) scale(1 1.04)" font-size="20.5">nl</text>
<text x="31.0" y="0">(r)</text>
<text x="67" y="0">[fm</text>
<text transform="translate(109.8 -13.0) scale(1 1.08)" font-size="21">−0.5</text>
<text x="147.4" y="0">]</text>
</g>
<text font-family="Liberation Serif, serif" font-size="31" x="330.4" y="74"><tspan font-weight="bold">J/</tspan><tspan font-family="DejaVu Serif, serif" font-size="28" dx="-0.6" dy="0.9">ψ</tspan></text>
<g stroke="#000" stroke-width="3.85" fill="none">
<path d="M383.7 97.9 H462.3"/>
<path d="M383.7 136.6 H462.3" stroke-dasharray="11.2 10.6"/>
<path d="M383.5 175.6 H462.3" stroke-width="4.1" stroke-dasharray="1.15 6.98"/>
<path d="M383.1 214.1 H462.3" stroke-dasharray="1 7.9 11 6.6"/>
</g>
<g font-family="Liberation Serif, serif" font-weight="bold" font-size="22.0" fill="#000">
<text transform="translate(470.2 100.6) scale(1 1.045)">T<tspan font-size="16.4" dy="10">C</tspan></text>
<text transform="translate(469.8 139.0) scale(1 1.045)">1.5 T<tspan font-size="16.4" dy="10">C</tspan></text>
<text transform="translate(469.8 178.2) scale(1 1.045)">2.0 T<tspan font-size="16.4" dy="10">C</tspan></text>
<text transform="translate(469.8 217.2) scale(1 1.045)">2.5 T<tspan font-size="16.4" dy="10">C</tspan></text>
</g>
</svg>
</body></html>
